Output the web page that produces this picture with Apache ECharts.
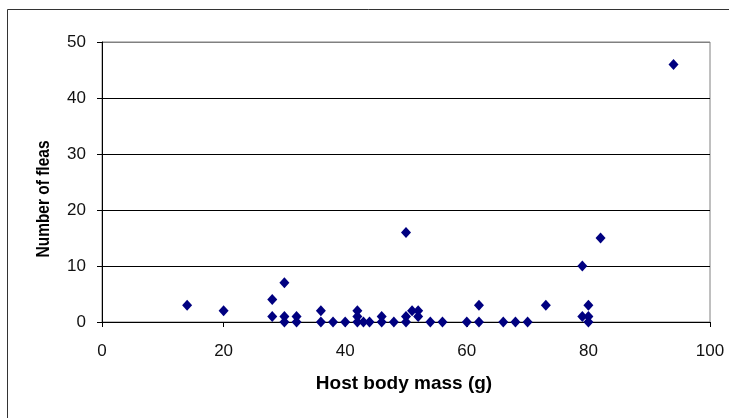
<!DOCTYPE html>
<html>
<head>
<meta charset="utf-8">
<script src="https://cdn.jsdelivr.net/npm/echarts@6/dist/echarts.min.js"></script>
<style>
html,body{margin:0;padding:0;background:#fff;}
#chart{width:729px;height:418px;}
</style>
</head>
<body>
<div id="chart"></div>
<script>
const hostMass = [14,20,28,28,30,30,30,32,32,36,36,38,40,42,42,42,43,44,46,46,48,50,50,50,51,52,52,54,56,60,62,62,66,68,70,73,79,79,80,80,80,82,94];
const fleaCount = [3,2,4,1,7,1,0,1,0,2,0,0,0,2,1,0,0,0,1,0,0,16,0,1,2,2,1,0,0,0,3,0,0,0,0,3,10,1,3,1,0,15,46];
const xTicks = {min:0, max:100, interval:20};
const yTicks = {min:0, max:50, interval:10};
const xTitle = 'Host body mass (g)';
const yTitle = 'Number of fleas';

const points = hostMass.map((m,i)=>[m, fleaCount[i]]);
const chart = echarts.init(document.getElementById('chart'), null, {renderer:'canvas'});
const labelFont = {fontFamily:'Liberation Sans, Arial', fontSize:17, color:'#111'};
chart.setOption({
  animation:false,
  backgroundColor:'#fff',
  grid:{left:102, top:42, right:19, bottom:96, show:true, borderColor:'#808080', borderWidth:1, backgroundColor:'transparent'},
  graphic:[
    {type:'rect', shape:{x:7.5, y:9.5, width:800, height:500}, style:{fill:'none', stroke:'#333', lineWidth:1}, silent:true, z:-1},
    {type:'text', x:404, y:384, style:{text:xTitle, font:'bold 19px Liberation Sans, Arial', fill:'#000', textAlign:'center', textVerticalAlign:'middle'}},
    {type:'text', x:44, y:199, rotation:Math.PI/2, scaleX:0.86, style:{text:yTitle, font:'bold 18px Liberation Sans, Arial', fill:'#000', textAlign:'center', textVerticalAlign:'middle'}}
  ],
  xAxis:{
    type:'value', min:xTicks.min, max:xTicks.max, interval:xTicks.interval,
    axisLine:{show:true, onZero:false, lineStyle:{color:'#000', width:1}},
    axisTick:{show:true, inside:false, length:5, lineStyle:{color:'#000'}},
    axisLabel:Object.assign({margin:21}, labelFont),
    splitLine:{show:false}
  },
  yAxis:{
    type:'value', min:yTicks.min, max:yTicks.max, interval:yTicks.interval,
    axisLine:{show:true, lineStyle:{color:'#000', width:1}},
    axisTick:{show:true, inside:false, length:5, lineStyle:{color:'#000'}},
    axisLabel:Object.assign({margin:16}, labelFont),
    splitLine:{show:true, lineStyle:{color:['#000','#000','#000','#000','#000','#808080'], width:1}}
  },
  series:[{
    type:'scatter', data:points, symbol:'diamond', symbolSize:[10,11],
    itemStyle:{color:'#000080', opacity:1}
  }]
});
</script>
</body>
</html>
